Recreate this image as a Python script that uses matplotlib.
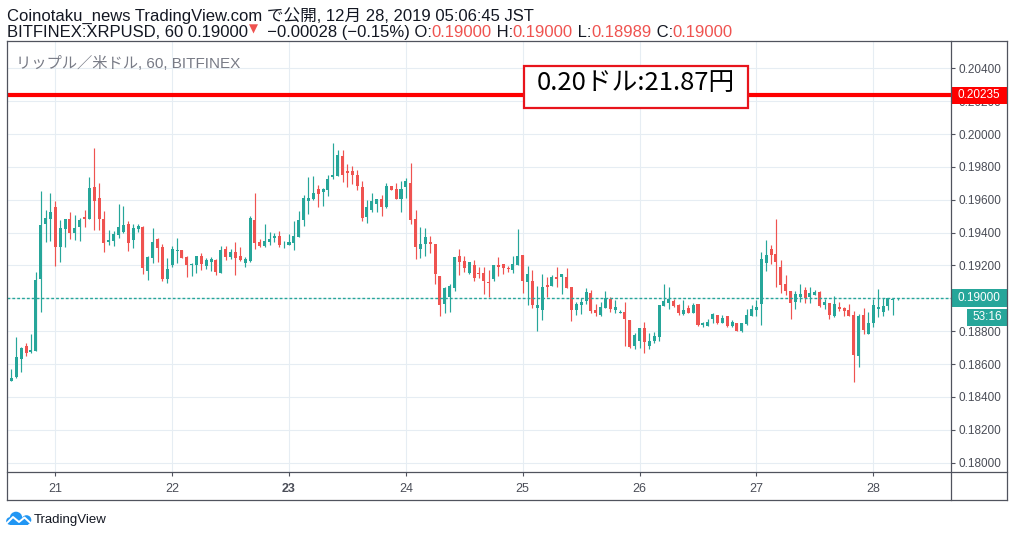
import matplotlib
matplotlib.use("Agg")
import matplotlib.pyplot as plt
import matplotlib.transforms as mtransforms
from matplotlib.patches import Rectangle, Circle
from matplotlib.lines import Line2D
import numpy as np

plt.rcParams['font.family'] = ['Liberation Sans', 'Noto Sans CJK JP', 'DejaVu Sans']

# XRPUSD hourly candles (20 Dec 20:00 .. 28 Dec 05:00 JST)
opens = [
    .18499, .18524, .18633, .18710, .18674, .18682, .19120, .19454, .19485, .19556,
    .19315, .19424, .19483, .19400, .19436, .19495, .19485, .19678, .19611, .19483,
    .19345, .19351, .19388, .19406, .19452, .19357, .19424, .19434, .19169, .19248,
    .19363, .19315, .19120, .19203, .19290, .19294, .19252, .19205, .19201, .19258,
    .19199, .19223, .19233, .19156, .19300, .19254, .19282, .19258, .19217, .19227,
    .19477, .19343, .19321, .19345, .19367, .19379, .19329, .19325, .19339, .19375,
    .19479, .19594, .19605, .19663, .19649, .19661, .19740, .19746, .19866, .19775,
    .19775, .19750, .19678, .19497, .19538, .19576, .19605, .19556, .19684, .19665,
    .19607, .19680, .19702, .19483, .19302, .19333, .19343, .19331, .19136, .18968,
    .19010, .19065, .19258, .19227, .19156, .19203, .19154, .19154, .19100, .19120,
    .19203, .19209, .19187, .19175, .19205, .19264, .19102, .19106, .18943, .18931,
    .19081, .19077, .19130, .19130, .19130, .19069, .18931, .18962, .18986, .19033,
    .18931, .18897, .18943, .18998, .18931, .18913, .18919, .18870, .18712, .18743,
    .18822, .18712, .18743, .18767, .18956, .18974, .18984, .18962, .18907, .18943,
    .18913, .18968, .18840, .18834, .18877, .18897, .18852, .18891, .18834, .18848,
    .18801, .18846, .18895, .18931, .18968, .19217, .19300, .19270, .19191, .19087,
    .19045, .18980, .19010, .19051, .19010, .19022, .19039, .18962, .18974, .18895,
    .18950, .18943, .18931, .18901, .18651, .18901, .18785, .18852, .18937, .18919,
    .18956, .18992, .19000,
]
highs = [
    .18570, .18765, .18702, .18726, .18783, .19160, .19653, .19538, .19641, .19592,
    .19477, .19483, .19525, .19507, .19489, .19538, .19738, .19917, .19702, .19532,
    .19416, .19410, .19574, .19562, .19471, .19452, .19452, .19440, .19258, .19428,
    .19369, .19331, .19246, .19319, .19367, .19294, .19258, .19215, .19258, .19276,
    .19246, .19252, .19240, .19319, .19319, .19300, .19343, .19313, .19252, .19501,
    .19641, .19361, .19452, .19404, .19398, .19410, .19349, .19392, .19471, .19532,
    .19629, .19738, .19744, .19690, .19671, .19751, .19945, .19903, .19903, .19817,
    .19805, .19781, .19714, .19598, .19641, .19605, .19629, .19702, .19684, .19702,
    .19714, .19732, .19824, .19538, .19434, .19428, .19379, .19331, .19136, .19069,
    .19087, .19252, .19300, .19258, .19221, .19233, .19191, .19191, .19173, .19203,
    .19252, .19209, .19197, .19258, .19422, .19264, .19197, .19173, .19075, .19148,
    .19130, .19142, .19191, .19148, .19185, .19069, .18980, .19004, .19063, .19051,
    .18968, .18980, .19045, .19010, .18992, .18931, .18980, .18870, .18791, .18822,
    .18858, .18791, .18797, .18962, .19087, .19069, .18998, .18968, .18992, .18962,
    .18974, .18968, .18858, .18877, .18913, .18897, .18901, .18891, .18870, .18848,
    .18850, .18937, .18962, .18990, .19282, .19355, .19325, .19483, .19233, .19142,
    .19045, .19045, .19087, .19069, .19069, .19051, .19045, .18998, .18974, .19016,
    .18980, .18950, .18968, .18925, .18907, .18943, .18919, .18998, .19057, .19004,
    .19004, .18998, .19000,
]
lows = [
    .18495, .18518, .18554, .18649, .18670, .18680, .18919, .19343, .19351, .19199,
    .19223, .19310, .19363, .19355, .19351, .19436, .19485, .19418, .19418, .19284,
    .19327, .19321, .19367, .19400, .19290, .19308, .19406, .19150, .19114, .19217,
    .19223, .19108, .19096, .19193, .19217, .19248, .19132, .19138, .19156, .19175,
    .19181, .19169, .19144, .19156, .19235, .19242, .19144, .19229, .19193, .19223,
    .19302, .19315, .19315, .19327, .19345, .19315, .19308, .19325, .19296, .19375,
    .19442, .19515, .19598, .19558, .19564, .19625, .19728, .19746, .19710, .19680,
    .19698, .19661, .19473, .19461, .19527, .19527, .19503, .19550, .19659, .19607,
    .19527, .19611, .19454, .19242, .19248, .19260, .19278, .19089, .18895, .18913,
    .18919, .19047, .19144, .19162, .19150, .19108, .19126, .19029, .19010, .19108,
    .19138, .19150, .19162, .19156, .19205, .19035, .18962, .18943, .18803, .18870,
    .19010, .19077, .19071, .19029, .19065, .18864, .18901, .18903, .18968, .18913,
    .18895, .18895, .18943, .18919, .18913, .18913, .18712, .18700, .18694, .18700,
    .18670, .18694, .18730, .18743, .18956, .18937, .18950, .18901, .18901, .18913,
    .18913, .18834, .18828, .18834, .18852, .18846, .18852, .18828, .18828, .18803,
    .18797, .18840, .18895, .18895, .18840, .19169, .19211, .19071, .19035, .19022,
    .18877, .18937, .18980, .18974, .18974, .19022, .18950, .18937, .18877, .18889,
    .18925, .18895, .18895, .18493, .18584, .18785, .18785, .18828, .18889, .18895,
    .18931, .18901, .18989,
]
closes = [
    .18516, .18641, .18696, .18670, .18686, .19112, .19446, .19489, .19525, .19315,
    .19428, .19483, .19400, .19428, .19477, .19485, .19671, .19594, .19485, .19339,
    .19355, .19392, .19434, .19446, .19339, .19428, .19440, .19187, .19252, .19343,
    .19308, .19120, .19179, .19300, .19294, .19248, .19205, .19211, .19258, .19211,
    .19233, .19240, .19162, .19294, .19254, .19282, .19248, .19235, .19240, .19489,
    .19339, .19321, .19349, .19361, .19379, .19325, .19333, .19343, .19379, .19477,
    .19611, .19611, .19641, .19637, .19665, .19726, .19751, .19872, .19752, .19765,
    .19752, .19686, .19491, .19556, .19592, .19605, .19558, .19684, .19659, .19607,
    .19665, .19714, .19479, .19313, .19331, .19373, .19333, .19150, .18962, .19063,
    .19077, .19252, .19223, .19187, .19221, .19126, .19148, .19108, .19096, .19203,
    .19193, .19187, .19181, .19209, .19258, .19108, .19148, .18962, .18962, .19069,
    .19071, .19130, .19120, .19148, .19065, .18931, .18968, .18980, .19039, .18925,
    .18913, .18950, .19004, .18937, .18950, .18919, .18877, .18706, .18779, .18822,
    .18737, .18743, .18773, .18962, .18984, .18998, .18956, .18913, .18931, .18913,
    .18962, .18840, .18852, .18858, .18907, .18852, .18883, .18834, .18858, .18803,
    .18850, .18897, .18937, .18950, .19240, .19264, .19264, .19223, .19083, .19047,
    .18974, .19027, .19027, .19004, .19033, .19039, .18956, .18980, .18901, .18968,
    .18937, .18925, .18895, .18657, .18895, .18810, .18852, .18962, .18950, .18956,
    .19004, .18998, .19000,
]

day_labels = ['21', '22', '23', '24', '25', '26', '27', '28']
first_midnight = 9          # candle index of 21 Dec 00:00
price_ticks = [0.180, 0.182, 0.184, 0.186, 0.188, 0.190, 0.192, 0.194,
               0.196, 0.198, 0.200, 0.202, 0.204]
level_price = 0.20235
last_price = 0.19000
countdown = '53:16'
note_text = '0.20ドル:21.87円'

UP = '#26a69a'
DOWN = '#ef5350'
FRAME = '#50535e'
W, H = 1014, 537


def fx(px):
    return px / W


def fy(py):
    return 1 - py / H


fig = plt.figure(figsize=(W / 100, H / 100), dpi=100)
fig.patch.set_facecolor('white')

# plot area in pixels: x 6.7..950.7, y 40.7..472.3
L, R, T, B = 6.7, 950.7, 40.7, 472.3
ax = fig.add_axes([fx(L), fy(B), fx(R - L), (B - T) / H])

o = np.array(opens)
hi = np.array(highs)
lo = np.array(lows)
c = np.array(closes)
x = np.arange(len(o))
up = c >= o
cols = np.where(up, UP, DOWN)

ax.vlines(x, lo, hi, colors=cols, lw=0.85, zorder=3)
body_bot = np.minimum(o, c)
body_h = np.maximum(np.abs(c - o), 0.00003)
ax.bar(x, body_h, bottom=body_bot, width=0.62, color=cols, lw=0, zorder=3)

ax.set_xlim(-0.98, 192.9)
ax.set_ylim(0.179416, 0.205677)

ax.axhline(last_price, color=UP, lw=1, ls=(0, (2, 1.5)), zorder=4)
ax.axhline(level_price, color='#ff0000', lw=3, zorder=4)

ax.set_yticks(price_ticks)
ax.set_yticklabels(['%.5f' % p for p in price_ticks])
ax.yaxis.tick_right()
ax.tick_params(axis='y', length=3, width=0.8, color=FRAME, pad=2.5,
               labelsize=8.5, labelcolor='#4a4d57')
xt = [first_midnight + 24 * k for k in range(len(day_labels))]
ax.set_xticks(xt)
ax.set_xticklabels(day_labels)
ax.tick_params(axis='x', length=3, width=0.8, color=FRAME, pad=5,
               labelsize=9, labelcolor='#4a4d57')
for lab in ax.get_xticklabels():
    if lab.get_text() == '23':
        lab.set_fontweight('bold')
ax.grid(color='#e6edf3', lw=0.8, zorder=0)
ax.set_axisbelow(True)
for s in ax.spines.values():
    s.set_visible(False)

# price axis labels
blend = mtransforms.blended_transform_factory(ax.transAxes, ax.transData)
ax_r = (1007 - L) / (R - L)
ph = 0.00054
ax.add_patch(Rectangle((1.0, level_price - ph), ax_r - 1.0, 2 * ph,
                       transform=blend, fc='#ff0000', ec='none',
                       clip_on=False, zorder=6))
ax.text(1.0077, level_price, '%.5f' % level_price, transform=blend,
        color='white', fontsize=8.5, va='center', ha='left', zorder=7,
        clip_on=False)
ax.add_patch(Rectangle((1.0, last_price - ph), ax_r - 1.0, 2 * ph,
                       transform=blend, fc=UP, ec='none',
                       clip_on=False, zorder=6))
ax.text(1.0077, last_price, '%.5f' % last_price, transform=blend,
        color='white', fontsize=8.5, va='center', ha='left', zorder=7,
        clip_on=False)
cd_y = last_price - 0.00115
ax.add_patch(Rectangle(((967 - L) / (R - L), cd_y - 0.00052),
                       ax_r - (967 - L) / (R - L), 0.00104,
                       transform=blend, fc=UP, ec='none',
                       clip_on=False, zorder=6))
ax.text((987 - L) / (R - L), cd_y, countdown, transform=blend,
        color='white', fontsize=8.5, va='center', ha='center', zorder=7,
        clip_on=False)

# annotation box
ax.add_patch(Rectangle(((524 - L) / (R - L), 1 - (108 - T) / (B - T)),
                       (748 - 524) / (R - L), 42 / (B - T),
                       transform=ax.transAxes, fc='white', ec='#e8141c',
                       lw=1.6, zorder=8))
ax.text((635.5 - L) / (R - L), 1 - (83.5 - T) / (B - T), note_text,
        transform=ax.transAxes, fontsize=18.5, color='black',
        family=['Noto Sans CJK JP', 'DejaVu Sans'],
        ha='center', va='center', zorder=9)

# watermark
ax.text((16 - L) / (R - L), 1 - (68 - T) / (B - T),
        'リップル／米ドル, 60, BITFINEX', transform=ax.transAxes,
        fontsize=11, color='#787b86', ha='left', va='baseline', zorder=2)

# frame lines
for xx in (L, R, 1007):
    fig.add_artist(Line2D([fx(xx), fx(xx)], [fy(T), fy(500)],
                          color=FRAME, lw=0.9))
for yy in (T, B, 500):
    fig.add_artist(Line2D([fx(L), fx(1007)], [fy(yy), fy(yy)],
                          color=FRAME, lw=0.9))

# header
DARK = '#131722'
fig.text(fx(7), fy(20.5), 'Coinotaku_news TradingView.com で公開, 12月 28, 2019 05:06:45 JST',
         fontsize=12, color=DARK, va='baseline', ha='left')
base = fig.text(fx(7), fy(37.3), 'BITFINEX:XRPUSD, 60 0.19000',
                fontsize=12, color=DARK, va='baseline', ha='left')
pieces = [('▼', DOWN), ('  −0.00028 (−0.15%) O:', DARK), ('0.19000', DOWN),
          (' H:', DARK), ('0.19000', DOWN), (' L:', DARK), ('0.18989', DOWN),
          (' C:', DARK), ('0.19000', DOWN)]
prev = base
for s, col in pieces:
    if s == '▼':
        prev = ax.annotate(s, xy=(1, 0), xycoords=(prev, base),
                           xytext=(0.5, 3.5), textcoords='offset points',
                           fontsize=8.5, color=col, va='bottom', ha='left',
                           family='DejaVu Sans', annotation_clip=False)
    else:
        prev = ax.annotate(s, xy=(1, 0), xycoords=(prev, base),
                           fontsize=12, color=col, va='bottom', ha='left',
                           annotation_clip=False)

# TradingView logo
lax = fig.add_axes([fx(5), fy(527), fx(28), 17 / H])
lax.set_xlim(0, 28)
lax.set_ylim(0, 17)
lax.axis('off')
blue = '#2196f3'
for (cx, cy, r) in [(11, 9, 6.3), (21.5, 7, 4.8), (5, 6, 3.8)]:
    lax.add_patch(Circle((cx, cy), r, fc=blue, ec='none'))
lax.add_patch(Rectangle((4.5, 2.2), 18, 5, fc=blue, ec='none'))
lax.plot([1.5, 8, 14, 19.5, 26.5], [3.5, 10, 5, 9.5, 3], color='white', lw=1.4)
fig.text(fx(34), fy(523.5), 'TradingView', fontsize=9.5, color=DARK,
         va='baseline', ha='left')

fig.savefig('out.png', dpi=100, facecolor='white')
